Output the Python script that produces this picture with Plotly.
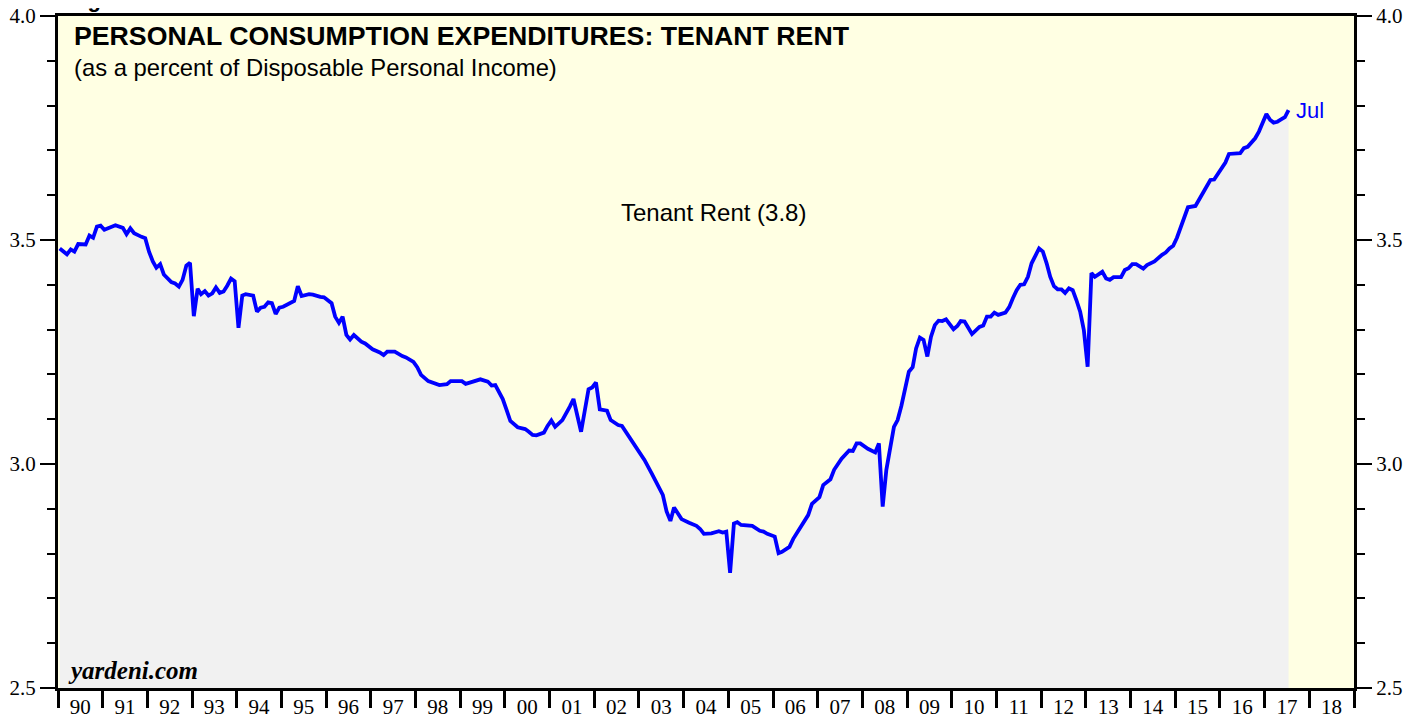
import plotly.graph_objects as go

dates = [
    "1990-01", "1990-03", "1990-04", "1990-05", "1990-06", "1990-08", "1990-09", "1990-10", "1990-11", "1990-12",
    "1991-01", "1991-02", "1991-04", "1991-06", "1991-07", "1991-08", "1991-09", "1991-11", "1991-12",
    "1992-01", "1992-02", "1992-03", "1992-04", "1992-05", "1992-07", "1992-08", "1992-09", "1992-10", "1992-11", "1992-12",
    "1993-01", "1993-02", "1993-03", "1993-04", "1993-05", "1993-06", "1993-07", "1993-08", "1993-09", "1993-10", "1993-11", "1993-12",
    "1994-01", "1994-02", "1994-03", "1994-05", "1994-06", "1994-07", "1994-08", "1994-09", "1994-10", "1994-11", "1994-12",
    "1995-01", "1995-04", "1995-05", "1995-06", "1995-08", "1995-09", "1995-11", "1995-12",
    "1996-02", "1996-03", "1996-04", "1996-05", "1996-06", "1996-07", "1996-08", "1996-10", "1996-11",
    "1997-01", "1997-03", "1997-04", "1997-05", "1997-07", "1997-09", "1997-10", "1997-12",
    "1998-01", "1998-02", "1998-04", "1998-07", "1998-09", "1998-10",
    "1999-01", "1999-02", "1999-04", "1999-06", "1999-08", "1999-09", "1999-10", "1999-11", "1999-12",
    "2000-01", "2000-02", "2000-04", "2000-06", "2000-07", "2000-08", "2000-09", "2000-11", "2000-12",
    "2001-01", "2001-02", "2001-04", "2001-06", "2001-07", "2001-09", "2001-11", "2001-12",
    "2002-01", "2002-02", "2002-04", "2002-05", "2002-07", "2002-08", "2002-09", "2002-11",
    "2003-01", "2003-02", "2003-04", "2003-06", "2003-07", "2003-08", "2003-09", "2003-10", "2003-11", "2003-12",
    "2004-02", "2004-04", "2004-05", "2004-06", "2004-08", "2004-10", "2004-11", "2004-12",
    "2005-01", "2005-02", "2005-03", "2005-04", "2005-07", "2005-09", "2005-10", "2005-11",
    "2006-01", "2006-02", "2006-03", "2006-05", "2006-06", "2006-07", "2006-09", "2006-10", "2006-11",
    "2007-01", "2007-02", "2007-04", "2007-05", "2007-07", "2007-09", "2007-10", "2007-11", "2007-12",
    "2008-02", "2008-03", "2008-04", "2008-05", "2008-06", "2008-07", "2008-09", "2008-10", "2008-11",
    "2009-01", "2009-02", "2009-03", "2009-04", "2009-05", "2009-06", "2009-07", "2009-08", "2009-09", "2009-10", "2009-11",
    "2010-01", "2010-02", "2010-03", "2010-04", "2010-06", "2010-08", "2010-09", "2010-10", "2010-11", "2010-12",
    "2011-01", "2011-03", "2011-04", "2011-05", "2011-06", "2011-07", "2011-08", "2011-09", "2011-10", "2011-12",
    "2012-01", "2012-02", "2012-03", "2012-04", "2012-05", "2012-06", "2012-07", "2012-08", "2012-09", "2012-10", "2012-11", "2012-12",
    "2013-01", "2013-02", "2013-03", "2013-05", "2013-06", "2013-07", "2013-08", "2013-10", "2013-11", "2013-12",
    "2014-01", "2014-02", "2014-04", "2014-05", "2014-07", "2014-09", "2014-10", "2014-11", "2014-12",
    "2015-01", "2015-02", "2015-03", "2015-04", "2015-06", "2015-08", "2015-10", "2015-11",
    "2016-01", "2016-02", "2016-03", "2016-05", "2016-06", "2016-07", "2016-08", "2016-10", "2016-11",
    "2017-01", "2017-02", "2017-03", "2017-04", "2017-05", "2017-06", "2017-07",
]
rent_share = [
    3.481, 3.468, 3.479, 3.474, 3.491, 3.490, 3.510, 3.505, 3.530, 3.532,
    3.523, 3.526, 3.533, 3.527, 3.513, 3.526, 3.515, 3.507, 3.504,
    3.474, 3.452, 3.438, 3.446, 3.423, 3.406, 3.403, 3.396, 3.411, 3.443, 3.449,
    3.330, 3.391, 3.379, 3.386, 3.376, 3.381, 3.394, 3.382, 3.385, 3.398, 3.414, 3.408,
    3.304, 3.376, 3.379, 3.376, 3.340, 3.349, 3.351, 3.361, 3.359, 3.335, 3.349,
    3.351, 3.364, 3.397, 3.375, 3.379, 3.378, 3.373, 3.372,
    3.359, 3.329, 3.315, 3.329, 3.288, 3.278, 3.288, 3.273, 3.269,
    3.256, 3.249, 3.243, 3.251, 3.251, 3.241, 3.238, 3.228,
    3.216, 3.199, 3.185, 3.176, 3.178, 3.185,
    3.185, 3.179, 3.184, 3.189, 3.184, 3.175, 3.176, 3.158, 3.145,
    3.121, 3.096, 3.082, 3.078, 3.072, 3.065, 3.064, 3.070, 3.085,
    3.097, 3.083, 3.098, 3.128, 3.145, 3.072, 3.167, 3.171,
    3.182, 3.122, 3.119, 3.098, 3.087, 3.085, 3.072, 3.050,
    3.024, 3.009, 2.979, 2.949, 2.931, 2.894, 2.873, 2.903, 2.891, 2.877,
    2.869, 2.862, 2.855, 2.844, 2.845, 2.850, 2.847, 2.849,
    2.757, 2.867, 2.870, 2.864, 2.862, 2.851, 2.849, 2.844,
    2.838, 2.801, 2.804, 2.815, 2.833, 2.846, 2.873, 2.886, 2.911,
    2.926, 2.953, 2.966, 2.987, 3.012, 3.030, 3.029, 3.046, 3.046,
    3.034, 3.030, 3.026, 3.046, 2.905, 2.987, 3.083, 3.098, 3.130,
    3.206, 3.216, 3.258, 3.282, 3.277, 3.240, 3.284, 3.310, 3.320, 3.319, 3.323,
    3.301, 3.308, 3.319, 3.318, 3.290, 3.306, 3.309, 3.329, 3.329, 3.338,
    3.333, 3.338, 3.350, 3.370, 3.388, 3.400, 3.401, 3.418, 3.448, 3.481,
    3.474, 3.448, 3.418, 3.397, 3.390, 3.390, 3.382, 3.392, 3.388, 3.366, 3.340, 3.299,
    3.217, 3.426, 3.418, 3.429, 3.414, 3.411, 3.417, 3.417, 3.433, 3.437,
    3.446, 3.446, 3.436, 3.444, 3.452, 3.467, 3.472, 3.481, 3.487,
    3.505, 3.530, 3.547, 3.573, 3.576, 3.604, 3.634, 3.635,
    3.660, 3.673, 3.692, 3.694, 3.694, 3.705, 3.708, 3.727, 3.742,
    3.781, 3.768, 3.762, 3.764, 3.769, 3.774, 3.790,
]

year_labels = ["90", "91", "92", "93", "94", "95", "96", "97", "98", "99",
               "00", "01", "02", "03", "04", "05", "06", "07", "08", "09",
               "10", "11", "12", "13", "14", "15", "16", "17", "18"]
first_year = 1990
y_major_ticks = [2.5, 3.0, 3.5, 4.0]

x_dates = [d + "-15" for d in dates]
label_pos = [f"{first_year + i}-07-02" for i in range(len(year_labels))]
boundary_pos = [f"{first_year + i}-01-01" for i in range(len(year_labels) + 1)]
y_ticktext = [f"{v:.1f}" for v in y_major_ticks]

fig = go.Figure()
fig.add_trace(go.Scatter(
    x=x_dates, y=rent_share, mode="lines",
    line=dict(color="#0000FF", width=3.8),
    fill="tozeroy", fillcolor="#F1F1F1",
    hoverinfo="skip", showlegend=False,
))
# invisible twin for right axis
fig.add_trace(go.Scatter(
    x=x_dates, y=rent_share, mode="lines", yaxis="y2",
    line=dict(color="rgba(0,0,0,0)", width=0),
    hoverinfo="skip", showlegend=False,
))

serif = "Liberation Serif, Times New Roman, serif"
sans = "Liberation Sans, Arial, Helvetica, sans-serif"

yaxis_common = dict(
    range=[2.5, 4.0], automargin=False, ticklabeloverflow="allow",
    tickmode="array", tickvals=y_major_ticks, ticktext=y_ticktext,
    ticks="outside", ticklen=15, tickwidth=2, tickcolor="black",
    tickfont=dict(family=serif, size=21, color="black"),
    showgrid=False, zeroline=False,
    showline=True, linecolor="black", linewidth=3,
    minor=dict(dtick=0.1, ticks="outside", ticklen=8, tickwidth=2,
               tickcolor="black", showgrid=False),
)

fig.update_layout(
    width=1413, height=711,
    margin=dict(l=50, r=67, t=8, b=31),
    paper_bgcolor="white",
    plot_bgcolor="#FFFFE3",
    xaxis=dict(
        type="date", automargin=False, ticklabeloverflow="allow",
        range=[boundary_pos[0], boundary_pos[-1]],
        tickmode="array", tickvals=label_pos, ticktext=year_labels,
        ticks="outside", ticklen=1, tickcolor="rgba(0,0,0,0)",
        ticklabelstandoff=-3,
        tickfont=dict(family=serif, size=21, color="black"),
        showgrid=False, zeroline=False,
        showline=True, linecolor="black", linewidth=3, mirror=True,
        minor=dict(tickmode="array", tickvals=boundary_pos, ticks="outside",
                   ticklen=17, tickwidth=3, tickcolor="black", showgrid=False),
    ),
    yaxis=yaxis_common,
    yaxis2=dict(overlaying="y", side="right", **yaxis_common),
    annotations=[
        dict(text="<b>PERSONAL CONSUMPTION EXPENDITURES: TENANT RENT</b>",
             xref="paper", yref="paper", x=0.0108, y=0.970,
             xanchor="left", yanchor="middle", showarrow=False,
             font=dict(family=sans, size=26.7, color="black")),
        dict(text="(as a percent of Disposable Personal Income)",
             xref="paper", yref="paper", x=0.0108, y=0.924,
             xanchor="left", yanchor="middle", showarrow=False,
             font=dict(family=sans, size=23.8, color="black")),
        dict(text="Tenant Rent (3.8)",
             xref="paper", yref="paper", x=0.5055, y=0.7083,
             xanchor="center", yanchor="middle", showarrow=False,
             font=dict(family=sans, size=24, color="black")),
        dict(text="Jul",
             xref="x", yref="y", x="2017-07-15", y=3.79,
             xanchor="left", yanchor="middle", xshift=5, showarrow=False,
             font=dict(family=sans, size=22, color="#0000FF")),
        dict(text="<b><i>yardeni.com</i></b>",
             xref="paper", yref="paper", x=0.0065, y=0.0,
             xanchor="left", yanchor="bottom", yshift=2.5, showarrow=False,
             font=dict(family=serif, size=25, color="black")),
        dict(text="<b>Figure 5.</b>",
             xref="paper", yref="paper", x=0.006, y=1.0,
             xanchor="left", yanchor="bottom", yshift=2, showarrow=False,
             font=dict(family=sans, size=22, color="black")),
    ],
)

fig.write_html("out.html")
